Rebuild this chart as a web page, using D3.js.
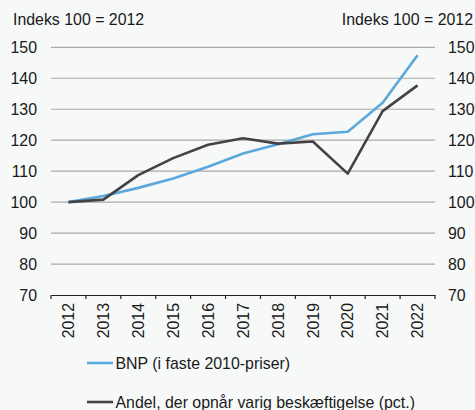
<!DOCTYPE html>
<html>
<head>
<meta charset="utf-8">
<script src="https://d3js.org/d3.v7.min.js"></script>
<style>
body { margin: 0; background: #f7f9f9; }
svg { display: block; font-family: "Liberation Sans", Arial, sans-serif; }
text { fill: #1a1a1a; }
</style>
</head>
<body>
<svg id="chart"></svg>
<script>
// data
var years = ["2012","2013","2014","2015","2016","2017","2018","2019","2020","2021","2022"];
var bnp = [100, 102.0, 104.6, 107.6, 111.4, 115.7, 118.7, 121.9, 122.7, 132.1, 147.4];
var andel = [100, 100.8, 108.7, 114.2, 118.5, 120.6, 118.9, 119.6, 109.2, 129.4, 137.7];
var yTicks = [70, 80, 90, 100, 110, 120, 130, 140, 150];
var seriesNames = ["BNP (i faste 2010-priser)", "Andel, der opnår varig beskæftigelse (pct.)"];
var seriesColors = ["#5ba8db", "#434343"];

var width = 475, height = 410;
var plotLeft = 51, plotRight = 435, plotTop = 47.3, plotBottom = 295;
var fs = "15.9px";

var svg = d3.select("#chart").attr("width", width).attr("height", height);

var x = d3.scaleBand().domain(years).range([plotLeft, plotRight]);
var y = d3.scaleLinear().domain([70, 150]).range([plotBottom, plotTop]);

// gridlines
svg.append("g").selectAll("line")
    .data(yTicks.filter(function(d) { return d > 70; }))
    .enter().append("line")
    .attr("x1", plotLeft).attr("x2", plotRight)
    .attr("y1", function(d) { return y(d); })
    .attr("y2", function(d) { return y(d); })
    .attr("stroke", "#a8a8a8")
    .attr("stroke-width", 1.2);

// left axis labels
svg.append("g").selectAll("text")
    .data(yTicks).enter().append("text")
    .attr("x", 37)
    .attr("y", function(d) { return y(d); })
    .attr("dy", "0.36em")
    .attr("text-anchor", "end")
    .style("font-size", fs)
    .text(function(d) { return d; });

// right axis labels
svg.append("g").selectAll("text")
    .data(yTicks).enter().append("text")
    .attr("x", 448)
    .attr("y", function(d) { return y(d); })
    .attr("dy", "0.36em")
    .style("font-size", fs)
    .text(function(d) { return d; });

// titles
svg.append("text").attr("x", 13).attr("y", 25).style("font-size", fs).text("Indeks 100 = 2012");
svg.append("text").attr("x", 473).attr("y", 25).attr("text-anchor", "end").style("font-size", fs).text("Indeks 100 = 2012");

// x axis
var xAxis = svg.append("g")
    .attr("transform", "translate(0," + plotBottom + ")")
    .call(d3.axisBottom(x).tickSize(0).tickFormat(""));
xAxis.select(".domain").attr("stroke", "#222").attr("stroke-width", 1.2);

var bounds = years.map(function(d) { return x(d); }).concat([plotRight]);
svg.append("g").selectAll("line")
    .data(bounds).enter().append("line")
    .attr("x1", function(d) { return d; }).attr("x2", function(d) { return d; })
    .attr("y1", plotBottom).attr("y2", plotBottom + 4)
    .attr("stroke", "#222").attr("stroke-width", 1.2);

svg.append("g").selectAll("text")
    .data(years).enter().append("text")
    .attr("transform", function(d) {
        return "translate(" + (x(d) + x.bandwidth() / 2) + "," + 303 + ") rotate(-90)";
    })
    .attr("dy", "0.36em")
    .attr("text-anchor", "end")
    .style("font-size", fs)
    .text(function(d) { return d; });

// lines
var line = d3.line()
    .x(function(d, i) { return x(years[i]) + x.bandwidth() / 2; })
    .y(function(d) { return y(d); });

[bnp, andel].forEach(function(s, i) {
    svg.append("path")
        .datum(s)
        .attr("d", line)
        .attr("fill", "none")
        .attr("stroke", seriesColors[i])
        .attr("stroke-width", 2.6)
        .attr("stroke-linejoin", "round");
});

// legend
var legendY = [363, 402];
seriesNames.forEach(function(name, i) {
    svg.append("line")
        .attr("x1", 87).attr("x2", 113)
        .attr("y1", legendY[i]).attr("y2", legendY[i])
        .attr("stroke", seriesColors[i]).attr("stroke-width", 2.6);
    svg.append("text")
        .attr("x", 115.5).attr("y", legendY[i])
        .attr("dy", "0.36em")
        .style("font-size", fs)
        .text(name);
});
</script>
</body>
</html>
